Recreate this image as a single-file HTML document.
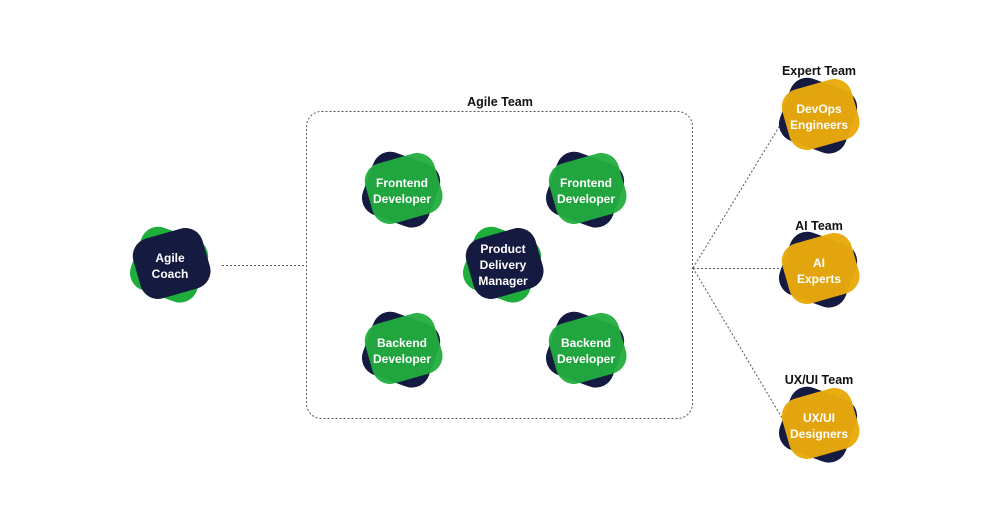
<!DOCTYPE html>
<html><head><meta charset="utf-8"><style>
html,body{margin:0;padding:0;background:#fff;width:1000px;height:530px;overflow:hidden}
svg text{font-family:"Liberation Sans",sans-serif;font-weight:bold}
</style></head><body>
<svg width="1000" height="530" viewBox="0 0 1000 530" xmlns="http://www.w3.org/2000/svg">
<defs>
<g id="bk"><rect x="-36" y="-33" width="70" height="66" rx="18" transform="rotate(20)"/></g>
<g id="fr"><rect x="-34" y="-32" width="72" height="62" rx="18" transform="rotate(-16)"/></g>
</defs>
<rect x="306.5" y="111.5" width="386" height="307" rx="15" fill="none" stroke="#555" stroke-width="1" stroke-dasharray="2,2"/>
<g stroke="#555" stroke-width="1" stroke-dasharray="2,2" fill="none">
<line x1="222" y1="265.5" x2="306" y2="265.5"/>
<line x1="693" y1="268" x2="782" y2="122"/>
<line x1="693" y1="268.5" x2="782" y2="268.5"/>
<line x1="693" y1="268" x2="782" y2="418"/>
</g>
<g font-size="12.5" fill="#111" text-anchor="middle">
<text x="500" y="106">Agile Team</text>
<text x="819" y="75">Expert Team</text>
<text x="819" y="230">AI Team</text>
<text x="819" y="384">UX/UI Team</text>
</g>
<g transform="translate(170,265)"><use href="#bk" fill="#1fae3c"/><use href="#fr" fill="#141a40"/>
<text y="-3" font-size="12" fill="#fff" text-anchor="middle">Agile</text><text y="13" font-size="12" fill="#fff" text-anchor="middle">Coach</text></g>
<g transform="translate(402,190)"><use href="#bk" fill="#141a40"/><use href="#fr" fill="#22ad3f" opacity="0.95"/>
<text y="-3" font-size="12" fill="#fff" text-anchor="middle">Frontend</text><text y="13" font-size="12" fill="#fff" text-anchor="middle">Developer</text></g>
<g transform="translate(586,190)"><use href="#bk" fill="#141a40"/><use href="#fr" fill="#22ad3f" opacity="0.95"/>
<text y="-3" font-size="12" fill="#fff" text-anchor="middle">Frontend</text><text y="13" font-size="12" fill="#fff" text-anchor="middle">Developer</text></g>
<g transform="translate(503,265)"><use href="#bk" fill="#1fae3c"/><use href="#fr" fill="#141a40"/>
<text y="-12" font-size="12" fill="#fff" text-anchor="middle">Product</text><text y="4" font-size="12" fill="#fff" text-anchor="middle">Delivery</text><text y="20" font-size="12" fill="#fff" text-anchor="middle">Manager</text></g>
<g transform="translate(402,350)"><use href="#bk" fill="#141a40"/><use href="#fr" fill="#22ad3f" opacity="0.95"/>
<text y="-3" font-size="12" fill="#fff" text-anchor="middle">Backend</text><text y="13" font-size="12" fill="#fff" text-anchor="middle">Developer</text></g>
<g transform="translate(586,350)"><use href="#bk" fill="#141a40"/><use href="#fr" fill="#22ad3f" opacity="0.95"/>
<text y="-3" font-size="12" fill="#fff" text-anchor="middle">Backend</text><text y="13" font-size="12" fill="#fff" text-anchor="middle">Developer</text></g>
<g transform="translate(819,116)"><use href="#bk" fill="#141a40"/><use href="#fr" fill="#e9aa0c" opacity="0.97"/>
<text y="-3" font-size="12" fill="#fff" text-anchor="middle">DevOps</text><text y="13" font-size="12" fill="#fff" text-anchor="middle">Engineers</text></g>
<g transform="translate(819,270)"><use href="#bk" fill="#141a40"/><use href="#fr" fill="#e9aa0c" opacity="0.97"/>
<text y="-3" font-size="12" fill="#fff" text-anchor="middle">AI</text><text y="13" font-size="12" fill="#fff" text-anchor="middle">Experts</text></g>
<g transform="translate(819,425)"><use href="#bk" fill="#141a40"/><use href="#fr" fill="#e9aa0c" opacity="0.97"/>
<text y="-3" font-size="12" fill="#fff" text-anchor="middle">UX/UI</text><text y="13" font-size="12" fill="#fff" text-anchor="middle">Designers</text></g>
</svg>
</body></html>
